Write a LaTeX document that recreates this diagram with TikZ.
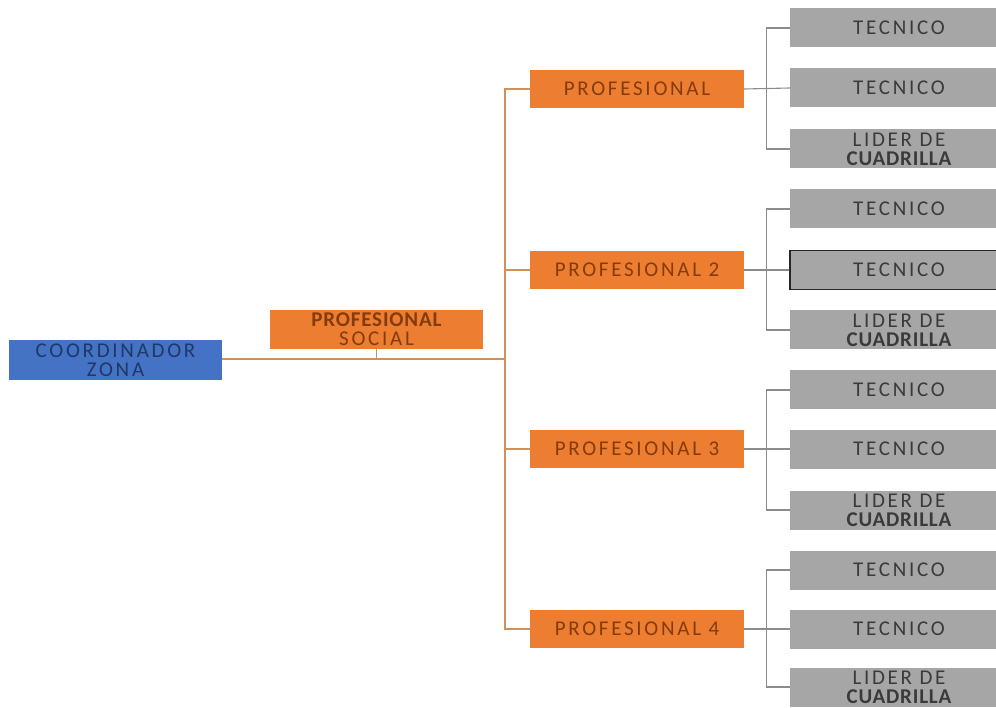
\documentclass[tikz,border=0pt]{standalone}
\usepackage{fontspec}
\setmainfont{Carlito}
\newfontfamily\spaced[LetterSpace=13]{Carlito}
\newfontfamily\spacedb[LetterSpace=4]{Carlito}
\definecolor{blueF}{HTML}{4472C4}
\definecolor{blueT}{HTML}{1F3864}
\definecolor{orangeF}{HTML}{ED7D31}
\definecolor{orangeT}{HTML}{843C0C}
\definecolor{orangeL}{HTML}{D0905A}
\definecolor{greyF}{HTML}{A6A6A6}
\definecolor{greyT}{HTML}{3A3A3A}
\definecolor{greyL}{HTML}{8C8C8C}
\newcommand{\bfw}[1]{{\fontsize{21}{21}\spacedb\bfseries #1}}
\begin{document}
\begin{tikzpicture}[x=1pt,y=-1pt,
  base/.style={inner sep=0pt, align=center, font=\fontsize{21}{19}\spaced},
  coordbox/.style={base, fill=blueF, text=blueT, minimum width=213pt, minimum height=40pt},
  orbox/.style={base, fill=orangeF, text=orangeT, minimum width=214pt, minimum height=38pt},
  grbox/.style={base, fill=greyF, text=greyT, minimum width=218pt, minimum height=39pt},
  oline/.style={draw=orangeL, line width=2pt},
  gline/.style={draw=greyL, line width=1.1pt}]
\useasboundingbox (0,0) rectangle (996,708);

\node[coordbox] (coord) at (115.5,360) {COORDINADOR\\ZONA};
\node[orbox, minimum width=213pt, minimum height=39pt] (social) at (376.5,329.5)
  {\bfw{PROFESIONAL}\\SOCIAL};

\node[orbox] (p1) at (637,89) {PROFESIONAL};
\node[orbox] (p2) at (637,270) {PROFESIONAL 2};
\node[orbox] (p3) at (637,449) {PROFESIONAL 3};
\node[orbox] (p4) at (637,629) {PROFESIONAL 4};

\node[grbox] (a1) at (899,28) {TECNICO};
\node[grbox] (b1) at (899,88) {TECNICO};
\node[grbox] (c1) at (899,149) {LIDER DE\\\bfw{CUADRILLA}};
\node[grbox] (a2) at (899,209) {TECNICO};
\node[grbox, draw=black!85, line width=1.5pt] (b2) at (899,270) {TECNICO};
\node[grbox] (c2) at (899,330) {LIDER DE\\\bfw{CUADRILLA}};
\node[grbox] (a3) at (899,390) {TECNICO};
\node[grbox] (b3) at (899,449) {TECNICO};
\node[grbox] (c3) at (899,510) {LIDER DE\\\bfw{CUADRILLA}};
\node[grbox] (a4) at (899,570) {TECNICO};
\node[grbox] (b4) at (899,629) {TECNICO};
\node[grbox] (c4) at (899,687) {LIDER DE\\\bfw{CUADRILLA}};

% orange connectors
\coordinate (spine) at (505,359);
\draw[oline] (coord.east |- spine) -- (spine);
\draw[oline] (p1.west) -- ++(-25,0) |- (p4.west);
\draw[oline] (p2.west) -- ++(-25,0);
\draw[oline] (p3.west) -- ++(-25,0);
\draw[draw=orangeL, line width=1pt] (social.south) -- (social.south |- spine);

% grey connectors
\foreach \i in {1,2,3,4}{
  \draw[gline] (p\i.east) -- (b\i.west);
  \draw[gline] (a\i.west) -- ++(-23,0) |- (c\i.west);
}
\end{tikzpicture}
\end{document}
